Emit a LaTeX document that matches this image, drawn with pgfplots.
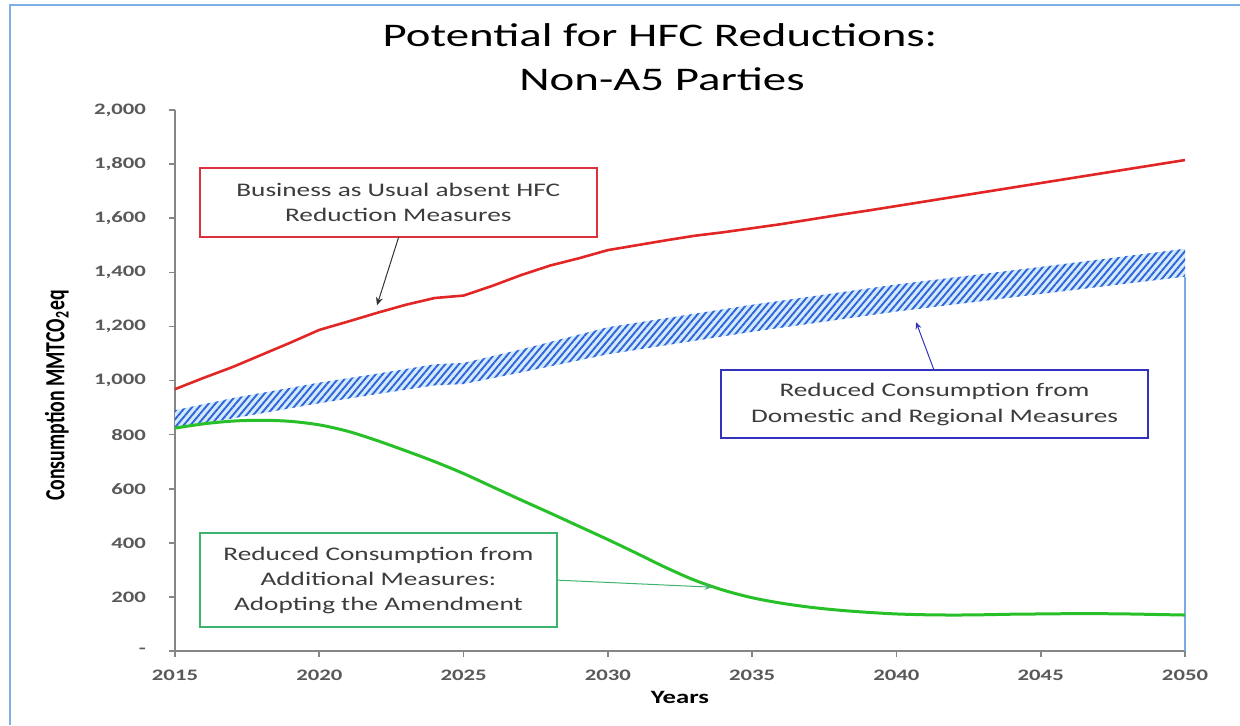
\documentclass[border=0pt]{standalone}
\usepackage{fontspec}
\setmainfont{Carlito}[FakeStretch=1.42]
\newfontfamily\plainfont{Carlito}
\usepackage{graphicx}
\usepackage{pgfplots}
\pgfplotsset{compat=1.18}
\usepgfplotslibrary{fillbetween}
\usetikzlibrary{patterns.meta,arrows.meta}

\definecolor{bauRed}{RGB}{226,38,38}
\definecolor{amendGreen}{RGB}{40,192,40}
\definecolor{hatchBlue}{RGB}{50,100,215}
\definecolor{hatchBg}{RGB}{210,235,252}
\definecolor{boxRed}{RGB}{220,50,60}
\definecolor{boxBlue}{RGB}{50,50,190}
\definecolor{boxGreen}{RGB}{60,180,110}
\definecolor{textGray}{RGB}{60,60,60}
\definecolor{tickText}{RGB}{89,89,89}
\definecolor{axisGray}{RGB}{134,134,134}
\definecolor{vLine}{RGB}{120,170,230}
\definecolor{frameBlue}{RGB}{126,176,232}

\pgfplotstableread{
year bau
2015 968
2016 1010
2017 1050
2018 1095
2019 1140
2020 1187
2021 1218
2022 1250
2023 1280
2024 1305
2025 1314
2026 1350
2027 1390
2028 1425
2029 1452
2030 1482
2031 1500
2032 1518
2033 1535
2034 1548
2035 1563
2036 1578
2037 1595
2038 1612
2039 1628
2040 1645
2045 1730
2050 1815
}\bautable

\pgfplotstableread{
year upper lower
2015 890 824
2017 935 860
2020 992 916
2022 1025 950
2024 1060 982
2025 1065 987
2027 1115 1030
2030 1197 1097
2035 1280 1180
2040 1355 1255
2045 1420 1320
2050 1487 1384
}\bandtable

\pgfplotstableread{
year amend
2015 824
2016 840
2017 850
2018 853
2019 849
2020 836
2021 812
2022 778
2023 740
2024 700
2025 656
2026 607
2027 558
2028 510
2029 461
2030 412
2031 361
2032 309
2033 262
2034 225
2035 197
2036 177
2037 162
2038 151
2039 143
2040 137
2041 134
2042 133
2043 134
2044 136
2045 137
2046 138
2047 138
2048 137
2049 135
2050 133
}\amendtable

\begin{document}
\begin{tikzpicture}
\begin{axis}[
  at={(87.5pt,37pt)}, anchor=south west,
  scale only axis, width=505pt, height=270.5pt,
  xmin=2015, xmax=2050, ymin=0, ymax=2000,
  axis lines=left,
  axis line style={draw=axisGray, line width=0.9pt, -},
  xtick={2015,2020,2025,2030,2035,2040,2045,2050},
  xticklabels={2015,2020,2025,2030,2035,2040,2045,2050},
  ytick={0,200,400,600,800,1000,1200,1400,1600,1800,2000},
  yticklabels={-,200,400,600,800,{1,000},{1,200},{1,400},{1,600},{1,800},{2,000}},
  tick align=outside, major tick length=3pt,
  tick style={draw=axisGray, line width=0.8pt},
  ticklabel style={font=\bfseries\fontsize{8}{9}\selectfont, text=tickText},
  yticklabel style={xshift=-8pt},
  xticklabel style={yshift=-3pt},
  xlabel={\bfseries Years},
  ylabel={\scalebox{1}[1.4]{\plainfont\bfseries Consumption MMTCO\textsubscript{2}eq}},
  every axis x label/.style={at={(axis description cs:0.5,0)}, anchor=base, yshift=-26pt, font=\fontsize{9.4}{11}\selectfont, text=black},
  every axis y label/.style={at={(axis description cs:-0.117,0.472)}, rotate=90, anchor=center, font=\fontsize{9.9}{11}\selectfont, text=black},
  clip=false,
]
% hatched band
\addplot[draw=none, name path=up] table[x=year, y=upper] {\bandtable};
\addplot[draw=none, name path=lo] table[x=year, y=lower] {\bandtable};
\addplot[fill=hatchBg, draw=none] fill between[of=up and lo];
\addplot[pattern={Lines[angle=50,distance=2.6pt,line width=0.95pt]}, pattern color=hatchBlue, draw=none] fill between[of=up and lo];
% vertical line at 2050
\addplot[vLine, line width=0.8pt] coordinates {(2050,0) (2050,1384)};
% BAU
\addplot[bauRed, line width=1.3pt] table[x=year, y=bau] {\bautable};
% amendment
\addplot[amendGreen, line width=1.5pt, smooth] table[x=year, y=amend] {\amendtable};

% annotation boxes
\node[draw=boxRed, line width=1pt, minimum width=198.5pt, minimum height=34.5pt, align=center,
      font=\fontsize{9.6}{12.5}\selectfont, text=textGray, fill=white, inner sep=0pt]
  at (axis cs:2022.74,1658) {Business as Usual absent HFC\\Reduction Measures};
\node[draw=boxBlue, line width=1pt, minimum width=213.5pt, minimum height=34pt, align=center,
      font=\fontsize{9.6}{13}\selectfont, text=textGray, fill=white, inner sep=0pt]
  at (axis cs:2041.32,913) {Reduced Consumption from\\Domestic and Regional Measures};
\node[draw=boxGreen, line width=1pt, minimum width=178.5pt, minimum height=47pt, align=center,
      font=\fontsize{9.6}{12.5}\selectfont, text=textGray, fill=white, inner sep=0pt]
  at (axis cs:2022.05,262) {Reduced Consumption from\\Additional Measures:\\Adopting the Amendment};

% arrows
\draw[-{Stealth[length=4pt,width=3.5pt]}, black!80, line width=0.5pt] (axis cs:2022.75,1530) -- (axis cs:2022.0,1278);
\draw[-{Stealth[length=3.5pt,width=3pt]}, boxBlue, line width=0.5pt] (axis cs:2041.3,1039) -- (axis cs:2040.68,1216);
\draw[-{Stealth[length=3.5pt,width=3pt]}, boxGreen, line width=0.5pt] (axis cs:2028.25,262) -- (axis cs:2033.6,236);
\end{axis}

% title
\node[anchor=base, font=\fontsize{16.5}{20}\selectfont, text=black] at (330pt,339pt) {Potential for HFC Reductions:};
\node[anchor=base, font=\fontsize{16.5}{20}\selectfont, text=black] at (331pt,317.5pt) {Non-A5 Parties};

% frame
\draw[frameBlue, line width=1pt] (5pt,0pt) -- (5pt,360pt) -- (620pt,360pt);

\pgfresetboundingbox
\path[use as bounding box] (0,0) rectangle (620pt,362.5pt);
\end{tikzpicture}
\end{document}
